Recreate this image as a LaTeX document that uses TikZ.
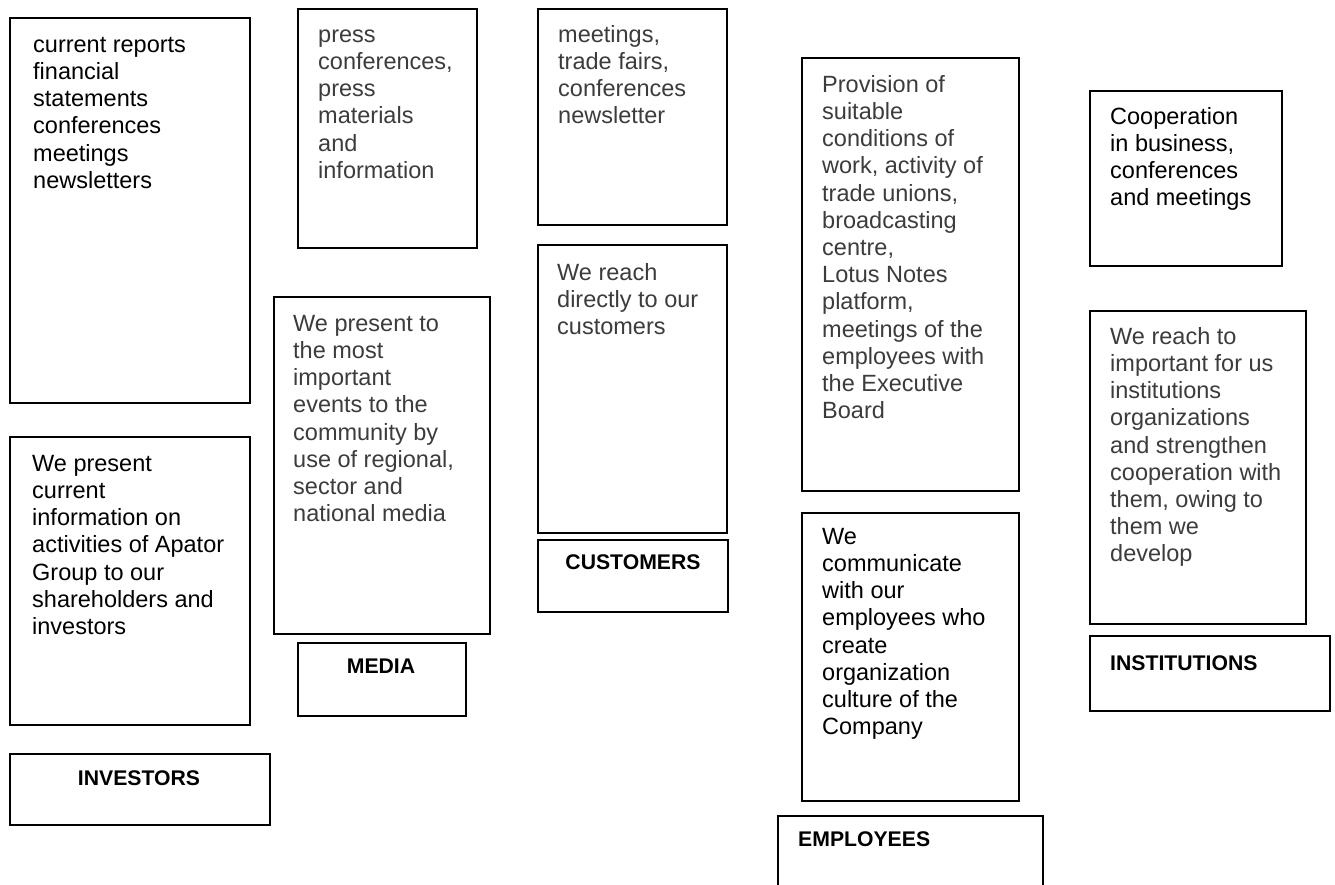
\documentclass[tikz,border=0pt]{standalone}
\usepackage{fontspec}
\setmainfont{Liberation Sans}
\definecolor{txtgray}{HTML}{3C3C3C}
\newcommand{\fl}{\rule{0pt}{17.6pt}}
\tikzset{
  box/.style={draw=black, line width=1.5pt, anchor=north west, inner sep=0pt, fill=white},
  txt/.style={anchor=north west, inner sep=0pt, align=left, font=\fontsize{23.5}{27.2}\selectfont, text=black, yshift=17.6pt},
  gtxt/.style={txt, text=txtgray},
  lbl/.style={anchor=base, inner sep=0pt, font=\fontsize{21.2}{25}\selectfont\bfseries},
  lblw/.style={lbl, anchor=base west}
}
\begin{document}
\begin{tikzpicture}[x=1pt,y=-1pt]
\useasboundingbox[fill=white] (0,0) rectangle (1335,884);
% investors
\node[box, minimum width=240pt, minimum height=385pt] (a1) at (9,17) {};
\node[box, minimum width=240pt, minimum height=288pt] (a2) at (9,436) {};
\node[box, minimum width=260pt, minimum height=71pt] (a3) at (9,753) {};
% media
\node[box, minimum width=179pt, minimum height=239pt] (b1) at (297,8) {};
\node[box, minimum width=216pt, minimum height=337pt] (b2) at (273,296) {};
\node[box, minimum width=168pt, minimum height=73pt] (b3) at (297,642) {};
% customers
\node[box, minimum width=189pt, minimum height=216pt] (c1) at (537,8) {};
\node[box, minimum width=189pt, minimum height=288pt] (c2) at (537,244) {};
\node[box, minimum width=190pt, minimum height=72pt] (c3) at (537,539) {};
% employees
\node[box, minimum width=217pt, minimum height=433pt] (d1) at (801,57) {};
\node[box, minimum width=217pt, minimum height=288pt] (d2) at (801,512) {};
\node[box, minimum width=265pt, minimum height=90pt] (d3) at (777,815) {};
% institutions
\node[box, minimum width=192pt, minimum height=175pt] (e1) at (1089,90) {};
\node[box, minimum width=216pt, minimum height=313pt] (e2) at (1089,310) {};
\node[box, minimum width=240pt, minimum height=75pt] (e3) at (1089,635) {};

% texts
\node[txt] (ta1) at (33,52) {\fl current reports\\financial\\statements\\conferences\\meetings\\newsletters};
\node[txt] (ta2) at (32,471) {\fl We present\\current\\information on\\activities of Apator\\Group to our\\shareholders and\\investors};
\node[lbl] (ta3) at (139,785) {INVESTORS};

\node[gtxt] (tb1) at (318,42) {\fl press\\conferences,\\press\\materials\\and\\information};
\node[gtxt] (tb2) at (293,331) {\fl We present to\\the most\\important\\events to the\\community by\\use of regional,\\sector and\\national media};
\node[lbl] (tb3) at (381,673) {MEDIA};

\node[gtxt] (tc1) at (558,42) {\fl meetings,\\trade fairs,\\conferences\\newsletter};
\node[gtxt] (tc2) at (557,280) {\fl We reach\\directly to our\\customers};
\node[lbl] (tc3) at (633,569) {CUSTOMERS};

\node[gtxt] (td1) at (822,92) {\fl Provision of\\suitable\\conditions of\\work, activity of\\trade unions,\\broadcasting\\centre,\\Lotus Notes\\platform,\\meetings of the\\employees with\\the Executive\\Board};
\node[txt] (td2) at (822,544) {\fl We\\communicate\\with our\\employees who\\create\\organization\\culture of the\\Company};
\node[lblw] (td3) at (798,846) {EMPLOYEES};

\node[txt] (te1) at (1110,124) {\fl Cooperation\\in business,\\conferences\\and meetings};
\node[gtxt] (te2) at (1110,344) {\fl We reach to\\important for us\\institutions\\organizations\\and strengthen\\cooperation with\\them, owing to\\them we\\develop};
\node[lblw] (te3) at (1110,670) {INSTITUTIONS};
\end{tikzpicture}
\end{document}
